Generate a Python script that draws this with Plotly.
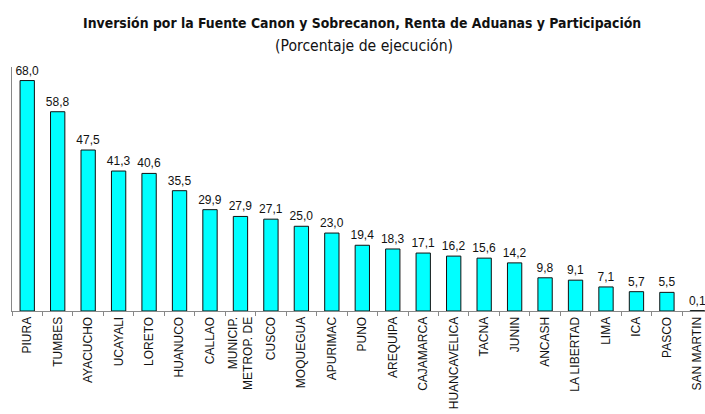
import plotly.graph_objects as go

# Porcentaje de ejecucion por region
regiones = [
    "PIURA", "TUMBES", "AYACUCHO", "UCAYALI", "LORETO", "HUANUCO", "CALLAO",
    "MUNICIP.<br>METROP. DE", "CUSCO", "MOQUEGUA", "APURIMAC", "PUNO", "AREQUIPA",
    "CAJAMARCA", "HUANCAVELICA", "TACNA", "JUNIN", "ANCASH", "LA LIBERTAD",
    "LIMA", "ICA", "PASCO", "SAN MARTIN",
]
ejecucion = [
    68.0, 58.8, 47.5, 41.3, 40.6, 35.5, 29.9, 27.9, 27.1, 25.0, 23.0, 19.4,
    18.3, 17.1, 16.2, 15.6, 14.2, 9.8, 9.1, 7.1, 5.7, 5.5, 0.1,
]

titulo = "Inversión por la Fuente Canon y Sobrecanon, Renta de Aduanas y Participación"
subtitulo = "(Porcentaje de ejecución)"

NARROW = "Liberation Sans Narrow, DejaVu Sans Condensed, Liberation Sans, sans-serif"
SANS = "Liberation Sans, Arial, sans-serif"

fig = go.Figure()
fig.add_trace(go.Bar(
    x=regiones,
    y=ejecucion,
    width=0.47,
    marker=dict(color="#00FFFF", line=dict(color="#111111", width=1)),
    texttemplate="%{y:.1f}",
    textposition="outside",
    constraintext="none",
    textfont=dict(family=SANS, size=12, color="#111111"),
    cliponaxis=False,
    hoverinfo="skip",
))

fig.add_annotation(
    text="<b>" + titulo + "</b>", xref="paper", yref="paper",
    x=(362 - 12) / 693, y=1, yanchor="middle", yshift=44, showarrow=False,
    font=dict(family=NARROW, size=13.9, color="#111111"),
)
fig.add_annotation(
    text=subtitulo, xref="paper", yref="paper",
    x=(364 - 12) / 693, y=1, yanchor="middle", yshift=21, showarrow=False,
    font=dict(family=NARROW, size=15.6, color="#111111"),
)

fig.update_layout(
    width=705, height=414,
    margin=dict(l=12, r=0, t=67, b=103),
    plot_bgcolor="white", paper_bgcolor="white",
    separators=",.",
    showlegend=False,
)
fig.update_xaxes(
    type="category", range=[-0.5, 22.25], tickangle=-90,
    tickson="boundaries", ticklabeloverflow="allow",
    showline=True, linecolor="#888888", linewidth=1,
    ticks="outside", ticklen=4, tickcolor="#888888",
    tickfont=dict(family=SANS, size=12, color="#111111"),
    showgrid=False, zeroline=False,
)
fig.update_yaxes(
    range=[0, 72], showticklabels=False, showgrid=False, zeroline=False,
    showline=True, linecolor="#888888", linewidth=1, ticks="",
)

# drop the default page margin so the 705x414 figure fills the window exactly
fig.write_html(
    "out.html",
    config={"displayModeBar": False},
    post_script="document.body.style.margin='0';document.body.style.overflow='hidden';",
)
